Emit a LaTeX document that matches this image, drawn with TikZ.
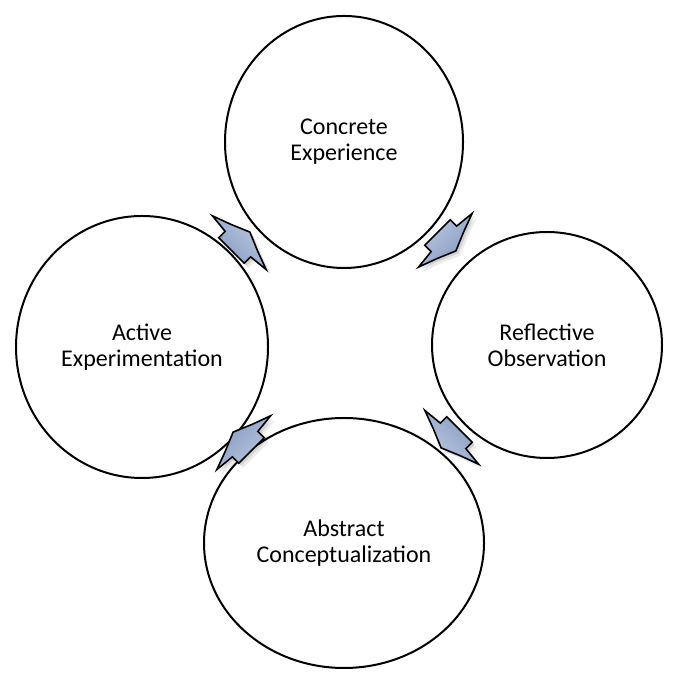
\documentclass[tikz,border=0pt]{standalone}
\usepackage{fontspec}
\setmainfont{Carlito}
\usetikzlibrary{shapes.geometric}
\definecolor{arrowlight}{RGB}{186,200,226}
\definecolor{arrowdark}{RGB}{134,154,192}
\tikzset{
  cyclenode/.style={draw=black, line width=2pt, ellipse, fill=white, align=center,
    font=\fontsize{24}{26}\selectfont, inner sep=0pt},
  arrowbody/.style={draw=black, line width=1.6pt, line join=miter, miter limit=25},
}
\newcommand{\cyclearrowshape}{(-12,18) -- (-3,18) -- (-1,38) -- (6,19) -- (14,0) -- (6,-19) -- (-1,-38) -- (-3,-18) -- (-12,-18) -- cycle}
\newcommand{\cyclearrowat}[2]{%
  \begin{scope}[shift={(#1)}]
    \fill[black, opacity=0.08, shift={(4.5,-4.5)}, rotate=#2] \cyclearrowshape;
    \fill[black, opacity=0.10, shift={(2.5,-2.5)}, rotate=#2] \cyclearrowshape;
    \draw[arrowbody, rotate=#2, top color=arrowlight, bottom color=arrowdark, shading angle=-#2] \cyclearrowshape;
  \end{scope}}
\begin{document}
\begin{tikzpicture}[x=1pt, y=1pt]
  \useasboundingbox (0,0) rectangle (679,687);
  \fill[white] (0,0) rectangle (679,687);
  \node[cyclenode, minimum width=238pt, minimum height=252pt] (ce) at (344,545) {Concrete\\Experience};
  \node[cyclenode, minimum width=230pt, minimum height=226pt] (ro) at (547,342) {Reflective\\Observation};
  \node[cyclenode, minimum width=280pt, minimum height=250pt] (ac) at (344,144) {Abstract\\Conceptualization};
  \node[cyclenode, minimum width=252pt, minimum height=262pt] (ae) at (142,340) {Active\\Experimentation};
  \coordinate (a1) at (240,445);
  \coordinate (a2) at (446,446);
  \coordinate (a3) at (451,249);
  \coordinate (a4) at (243,245);
  \cyclearrowat{a1}{45}
  \cyclearrowat{a2}{-45}
  \cyclearrowat{a3}{-135}
  \cyclearrowat{a4}{135}
\end{tikzpicture}
\end{document}
